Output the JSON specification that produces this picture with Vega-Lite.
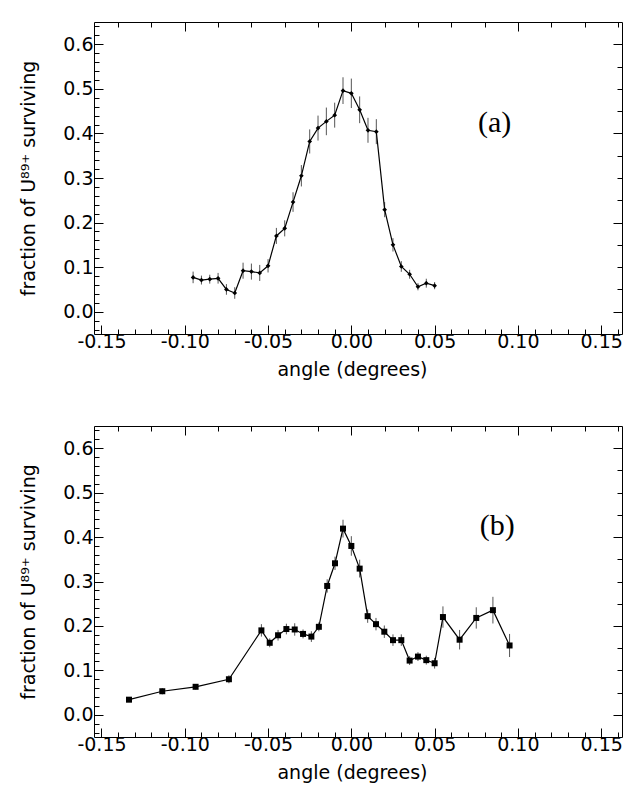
{
  "$schema": "https://vega.github.io/schema/vega-lite/v6.json",
  "padding": {"left": 19, "top": 17, "right": 2, "bottom": 2},
  "spacing": 42,
  "datasets": {
    "a": [
      {"angle": -0.095, "fraction": 0.077, "err": 0.013},
      {"angle": -0.090, "fraction": 0.071, "err": 0.010},
      {"angle": -0.085, "fraction": 0.073, "err": 0.010},
      {"angle": -0.080, "fraction": 0.075, "err": 0.012},
      {"angle": -0.075, "fraction": 0.050, "err": 0.012},
      {"angle": -0.070, "fraction": 0.042, "err": 0.013},
      {"angle": -0.065, "fraction": 0.092, "err": 0.018},
      {"angle": -0.060, "fraction": 0.090, "err": 0.018},
      {"angle": -0.055, "fraction": 0.087, "err": 0.018},
      {"angle": -0.050, "fraction": 0.103, "err": 0.015},
      {"angle": -0.045, "fraction": 0.170, "err": 0.018},
      {"angle": -0.040, "fraction": 0.187, "err": 0.018},
      {"angle": -0.035, "fraction": 0.246, "err": 0.022},
      {"angle": -0.030, "fraction": 0.305, "err": 0.024},
      {"angle": -0.025, "fraction": 0.382, "err": 0.027},
      {"angle": -0.020, "fraction": 0.412, "err": 0.028},
      {"angle": -0.015, "fraction": 0.427, "err": 0.031},
      {"angle": -0.010, "fraction": 0.441, "err": 0.028},
      {"angle": -0.005, "fraction": 0.496, "err": 0.030},
      {"angle": 0.000, "fraction": 0.490, "err": 0.033},
      {"angle": 0.005, "fraction": 0.453, "err": 0.030},
      {"angle": 0.010, "fraction": 0.407, "err": 0.028},
      {"angle": 0.015, "fraction": 0.404, "err": 0.028},
      {"angle": 0.020, "fraction": 0.229, "err": 0.017},
      {"angle": 0.025, "fraction": 0.150, "err": 0.015},
      {"angle": 0.030, "fraction": 0.1015, "err": 0.012},
      {"angle": 0.035, "fraction": 0.084, "err": 0.010},
      {"angle": 0.040, "fraction": 0.056, "err": 0.008},
      {"angle": 0.045, "fraction": 0.064, "err": 0.010},
      {"angle": 0.050, "fraction": 0.0585, "err": 0.008}
    ],
    "b": [
      {"angle": -0.1335, "fraction": 0.034, "err": 0.005},
      {"angle": -0.1135, "fraction": 0.053, "err": 0.007},
      {"angle": -0.0935, "fraction": 0.063, "err": 0.006},
      {"angle": -0.0735, "fraction": 0.080, "err": 0.009},
      {"angle": -0.054, "fraction": 0.190, "err": 0.014},
      {"angle": -0.049, "fraction": 0.162, "err": 0.010},
      {"angle": -0.044, "fraction": 0.179, "err": 0.012},
      {"angle": -0.039, "fraction": 0.193, "err": 0.012},
      {"angle": -0.034, "fraction": 0.192, "err": 0.014},
      {"angle": -0.029, "fraction": 0.182, "err": 0.010},
      {"angle": -0.024, "fraction": 0.176, "err": 0.012},
      {"angle": -0.0195, "fraction": 0.198, "err": 0.010},
      {"angle": -0.0145, "fraction": 0.290, "err": 0.015},
      {"angle": -0.0098, "fraction": 0.341, "err": 0.015},
      {"angle": -0.005, "fraction": 0.419, "err": 0.020},
      {"angle": 0.000, "fraction": 0.380, "err": 0.022},
      {"angle": 0.005, "fraction": 0.329, "err": 0.020},
      {"angle": 0.0098, "fraction": 0.222, "err": 0.015},
      {"angle": 0.0148, "fraction": 0.204, "err": 0.014},
      {"angle": 0.0198, "fraction": 0.187, "err": 0.014},
      {"angle": 0.025, "fraction": 0.168, "err": 0.013},
      {"angle": 0.030, "fraction": 0.168, "err": 0.013},
      {"angle": 0.035, "fraction": 0.122, "err": 0.010},
      {"angle": 0.040, "fraction": 0.131, "err": 0.010},
      {"angle": 0.045, "fraction": 0.123, "err": 0.010},
      {"angle": 0.050, "fraction": 0.116, "err": 0.012},
      {"angle": 0.055, "fraction": 0.220, "err": 0.024},
      {"angle": 0.065, "fraction": 0.169, "err": 0.022},
      {"angle": 0.075, "fraction": 0.218, "err": 0.024},
      {"angle": 0.085, "fraction": 0.2355, "err": 0.030},
      {"angle": 0.095, "fraction": 0.156, "err": 0.026}
    ],
    "labels": [
      {"panel": "a", "text": "(a)", "angle": 0.086, "fraction": 0.424},
      {"panel": "b", "text": "(b)", "angle": 0.0876, "fraction": 0.426}
    ]
  },
  "vconcat": [
    {
      "width": 528,
      "height": 312,
      "data": {"name": "a"},
      "resolve": {"axis": {"x": "independent", "y": "independent"}},
      "layer": [
        {
          "mark": {"type": "errorbar", "ticks": false, "color": "#555555", "thickness": 1},
          "encoding": {
            "x": {"field": "angle", "type": "quantitative",
              "scale": {"domain": [-0.1545, 0.1625], "nice": false, "zero": false},
              "axis": {"orient": "bottom", "title": "angle (degrees)", "titlePadding": 5, "titleX": 258,
                "values": [-0.15,-0.14,-0.13,-0.12,-0.11,-0.1,-0.09,-0.08,-0.07,-0.06,-0.05,-0.04,-0.03,-0.02,-0.01,0,0.01,0.02,0.03,0.04,0.05,0.06,0.07,0.08,0.09,0.1,0.11,0.12,0.13,0.14,0.15,0.16],
                "labelExpr": "abs(datum.value*20 - round(datum.value*20)) < 0.001 ? replace(format(datum.value, '.2f'), '\u2212', '-') : ''",
                "tickSize": {"condition": {"test": "abs(datum.value*20 - round(datum.value*20)) < 0.001", "value": -9}, "value": -5},
                "labelPadding": 7}},
            "y": {"field": "fraction", "type": "quantitative",
              "scale": {"domain": [-0.05, 0.65], "nice": false, "zero": false},
              "axis": {"orient": "left", "title": "fraction of U\u2078\u2079\u207a surviving", "titlePadding": 24,
                "values": [-0.04,-0.02,0,0.02,0.04,0.06,0.08,0.1,0.12,0.14,0.16,0.18,0.2,0.22,0.24,0.26,0.28,0.3,0.32,0.34,0.36,0.38,0.4,0.42,0.44,0.46,0.48,0.5,0.52,0.54,0.56,0.58,0.6,0.62,0.64],
                "labelExpr": "abs(datum.value*10 - round(datum.value*10)) < 0.001 ? format(datum.value, '.1f') : ''",
                "tickSize": {"condition": {"test": "abs(datum.value*10 - round(datum.value*10)) < 0.001", "value": -9}, "value": -5},
                "labelPadding": 10}},
            "yError": {"field": "err"}
          }
        },
        {
          "mark": {"type": "line", "color": "black", "strokeWidth": 1.2},
          "encoding": {
            "x": {"field": "angle", "type": "quantitative",
              "axis": {"orient": "top", "title": null, "labels": false,
                "values": [-0.14,-0.12,-0.1,-0.08,-0.06,-0.04,-0.02,0,0.02,0.04,0.06,0.08,0.1,0.12,0.14,0.16],
                "tickSize": {"condition": {"test": "abs(datum.value*10 - round(datum.value*10)) < 0.001", "value": -9}, "value": -5}}},
            "y": {"field": "fraction", "type": "quantitative",
              "axis": {"orient": "right", "title": null, "labels": false,
                "values": [0,0.05,0.1,0.15,0.2,0.25,0.3,0.35,0.4,0.45,0.5,0.55,0.6],
                "tickSize": {"condition": {"test": "abs(datum.value*5 - round(datum.value*5)) < 0.001", "value": -9}, "value": -5}}}
          }
        },
        {
          "mark": {"type": "point", "shape": "diamond", "filled": true, "color": "black", "size": 22, "opacity": 1},
          "encoding": {
            "x": {"field": "angle", "type": "quantitative", "axis": null},
            "y": {"field": "fraction", "type": "quantitative", "axis": null}
          }
        },
        {
          "data": {"name": "labels"},
          "transform": [{"filter": "datum.panel === 'a'"}],
          "mark": {"type": "text", "font": "Liberation Serif", "fontSize": 30, "fontWeight": 400, "fill": "black"},
          "encoding": {
            "x": {"field": "angle", "type": "quantitative", "axis": null},
            "y": {"field": "fraction", "type": "quantitative", "axis": null},
            "text": {"field": "text"}
          }
        }
      ]
    },
    {
      "width": 528,
      "height": 311,
      "data": {"name": "b"},
      "resolve": {"axis": {"x": "independent", "y": "independent"}},
      "layer": [
        {
          "mark": {"type": "errorbar", "ticks": false, "color": "#555555", "thickness": 1},
          "encoding": {
            "x": {"field": "angle", "type": "quantitative",
              "scale": {"domain": [-0.1545, 0.1625], "nice": false, "zero": false},
              "axis": {"orient": "bottom", "title": "angle (degrees)", "titlePadding": 5, "titleX": 258,
                "values": [-0.15,-0.14,-0.13,-0.12,-0.11,-0.1,-0.09,-0.08,-0.07,-0.06,-0.05,-0.04,-0.03,-0.02,-0.01,0,0.01,0.02,0.03,0.04,0.05,0.06,0.07,0.08,0.09,0.1,0.11,0.12,0.13,0.14,0.15,0.16],
                "labelExpr": "abs(datum.value*20 - round(datum.value*20)) < 0.001 ? replace(format(datum.value, '.2f'), '\u2212', '-') : ''",
                "tickSize": {"condition": {"test": "abs(datum.value*20 - round(datum.value*20)) < 0.001", "value": -9}, "value": -5},
                "labelPadding": 7}},
            "y": {"field": "fraction", "type": "quantitative",
              "scale": {"domain": [-0.05, 0.65], "nice": false, "zero": false},
              "axis": {"orient": "left", "title": "fraction of U\u2078\u2079\u207a surviving", "titlePadding": 24,
                "values": [-0.04,-0.02,0,0.02,0.04,0.06,0.08,0.1,0.12,0.14,0.16,0.18,0.2,0.22,0.24,0.26,0.28,0.3,0.32,0.34,0.36,0.38,0.4,0.42,0.44,0.46,0.48,0.5,0.52,0.54,0.56,0.58,0.6,0.62,0.64],
                "labelExpr": "abs(datum.value*10 - round(datum.value*10)) < 0.001 ? format(datum.value, '.1f') : ''",
                "tickSize": {"condition": {"test": "abs(datum.value*10 - round(datum.value*10)) < 0.001", "value": -9}, "value": -5},
                "labelPadding": 10}},
            "yError": {"field": "err"}
          }
        },
        {
          "mark": {"type": "line", "color": "black", "strokeWidth": 1.2},
          "encoding": {
            "x": {"field": "angle", "type": "quantitative",
              "axis": {"orient": "top", "title": null, "labels": false,
                "values": [-0.14,-0.12,-0.1,-0.08,-0.06,-0.04,-0.02,0,0.02,0.04,0.06,0.08,0.1,0.12,0.14,0.16],
                "tickSize": {"condition": {"test": "abs(datum.value*10 - round(datum.value*10)) < 0.001", "value": -9}, "value": -5}}},
            "y": {"field": "fraction", "type": "quantitative",
              "axis": {"orient": "right", "title": null, "labels": false,
                "values": [0,0.05,0.1,0.15,0.2,0.25,0.3,0.35,0.4,0.45,0.5,0.55,0.6],
                "tickSize": {"condition": {"test": "abs(datum.value*5 - round(datum.value*5)) < 0.001", "value": -9}, "value": -5}}}
          }
        },
        {
          "mark": {"type": "point", "shape": "square", "filled": true, "color": "black", "size": 36, "opacity": 1},
          "encoding": {
            "x": {"field": "angle", "type": "quantitative", "axis": null},
            "y": {"field": "fraction", "type": "quantitative", "axis": null}
          }
        },
        {
          "data": {"name": "labels"},
          "transform": [{"filter": "datum.panel === 'b'"}],
          "mark": {"type": "text", "font": "Liberation Serif", "fontSize": 30, "fontWeight": 400, "fill": "black"},
          "encoding": {
            "x": {"field": "angle", "type": "quantitative", "axis": null},
            "y": {"field": "fraction", "type": "quantitative", "axis": null},
            "text": {"field": "text"}
          }
        }
      ]
    }
  ],
  "config": {
    "view": {"stroke": null},
    "axis": {
      "domainColor": "black", "tickColor": "black", "labelColor": "black", "titleColor": "black",
      "labelFont": "DejaVu Sans", "titleFont": "DejaVu Sans", "labelFontSize": 19, "titleFontSize": 19,
      "titleFontWeight": "normal", "grid": false, "labelFlush": false, "labelOverlap": false,
      "tickWidth": 1, "domainWidth": 1
    }
  }
}
